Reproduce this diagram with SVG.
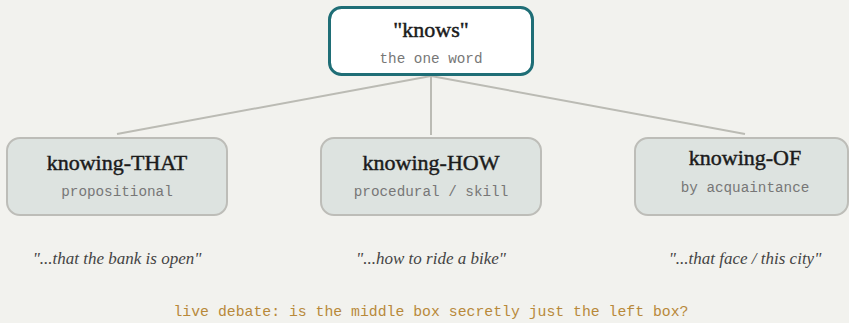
<svg xmlns="http://www.w3.org/2000/svg" width="849" height="323" viewBox="0 0 849 323">
<style>
.bg{fill:#f2f2ee}
.box{fill:#dde3e0;stroke:#bdbdb8;stroke-width:2}
.root{fill:#ffffff;stroke:#1f6e76;stroke-width:3}
.title{font-family:"Liberation Serif","DejaVu Serif",serif;font-size:22px;fill:#1b1b1b;stroke:#1b1b1b;stroke-width:0.45;text-anchor:middle}
.sub{font-family:"Liberation Mono","DejaVu Sans Mono",monospace;font-size:14.3px;fill:#777777;text-anchor:middle}
.quote{font-family:"Liberation Serif","DejaVu Serif",serif;font-style:italic;font-size:17px;fill:#444444;text-anchor:middle}
.note{font-family:"Liberation Mono","DejaVu Sans Mono",monospace;font-size:14.8px;fill:#b8893a;text-anchor:middle}
.conn{stroke:#bbbbb4;stroke-width:2;fill:none}
</style>
<rect class="bg" x="0" y="0" width="849" height="323"/>
<g id="connectors">
<line class="conn" x1="431" y1="76" x2="117" y2="134"/>
<line class="conn" x1="431" y1="76" x2="431" y2="135"/>
<line class="conn" x1="431" y1="76" x2="745" y2="134"/>
</g>
<g id="knows">
<rect class="root" x="329.5" y="7.5" width="203" height="67" rx="12"/>
<text class="title" x="431" y="37">"knows"</text>
<text class="sub" x="431" y="63">the one word</text>
</g>
<g id="knowing-that">
<rect class="box" x="7" y="138" width="220" height="77" rx="13"/>
<text class="title" x="117" y="170">knowing-THAT</text>
<text class="sub" x="117" y="196">propositional</text>
</g>
<g id="knowing-how">
<rect class="box" x="321" y="138" width="220" height="77" rx="13"/>
<text class="title" x="431" y="170">knowing-HOW</text>
<text class="sub" x="431" y="196">procedural / skill</text>
</g>
<g id="knowing-of">
<rect class="box" x="635" y="138" width="213" height="77" rx="13"/>
<text class="title" x="745" y="165">knowing-OF</text>
<text class="sub" x="745" y="192">by acquaintance</text>
</g>
<g id="examples">
<text class="quote" x="117" y="264">"...that the bank is open"</text>
<text class="quote" x="431" y="264">"...how to ride a bike"</text>
<text class="quote" x="745" y="264">"...that face / this city"</text>
</g>
<text class="note" x="431" y="316">live debate: is the middle box secretly just the left box?</text>
</svg>
